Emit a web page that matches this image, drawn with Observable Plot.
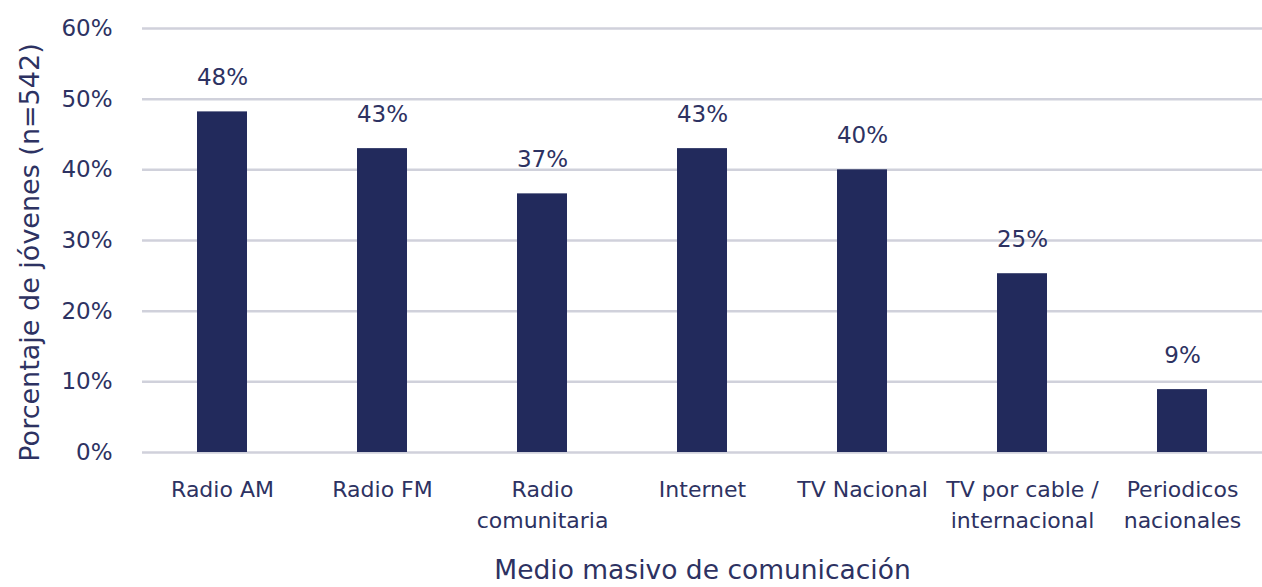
<!DOCTYPE html>
<html>
<head>
<meta charset="utf-8">
<script src="https://cdn.jsdelivr.net/npm/d3@7"></script>
<script src="https://cdn.jsdelivr.net/npm/@observablehq/plot@0.6"></script>
<style>
  body { margin: 0; background: #fff; }
  svg { display: block; }
</style>
</head>
<body>
<div id="chart"></div>
<script>
const categories = ["Radio AM", "Radio FM", "Radio comunitaria", "Internet", "TV Nacional", "TV por cable / internacional", "Periodicos nacionales"];
const tickLabels = ["Radio AM", "Radio FM", "Radio\ncomunitaria", "Internet", "TV Nacional", "TV por cable /\ninternacional", "Periodicos\nnacionales"];
const values = [48.2, 43, 36.6, 43, 40, 25.3, 8.9];
const valueLabels = ["48%", "43%", "37%", "43%", "40%", "25%", "9%"];
const yTicks = [0, 10, 20, 30, 40, 50, 60];

const data = categories.map((c, i) => ({cat: c, value: values[i], label: valueLabels[i]}));
const labelMap = new Map(categories.map((c, i) => [c, tickLabels[i]]));

const textColor = "#2d3262";
const barColor = "#222a5c";

const chart = Plot.plot({
  width: 1262,
  height: 587,
  marginLeft: 142,
  marginRight: 0,
  marginTop: 28,
  marginBottom: 135,
  style: {fontFamily: "DejaVu Sans, sans-serif", color: textColor, background: "#fff"},
  x: {domain: categories, paddingInner: 0.69, paddingOuter: 0.345, align: 0.5},
  y: {domain: [0, 60]},
  marks: [
    Plot.gridY(yTicks, {stroke: "#d0d1db", strokeOpacity: 1, strokeWidth: 2.5}),
    Plot.barY(data, {x: "cat", y: "value", fill: barColor}),
    Plot.text(data, {x: "cat", y: "value", text: "label", dy: -34, fontSize: 23, fill: textColor}),
    Plot.axisY(yTicks, {tickSize: 0, tickPadding: 30, fontSize: 23, tickFormat: d => d + "%", label: null}),
    Plot.axisX({tickSize: 0, tickPadding: 22, fontSize: 22, lineHeight: 1.41, tickFormat: d => labelMap.get(d), label: null, lineAnchor: "top"}),
    Plot.text(["Medio masivo de comunicación"], {frameAnchor: "bottom", dy: 126, fontSize: 26.5, fill: textColor, lineAnchor: "bottom"}),
    Plot.text(["Porcentaje de jóvenes (n=542)"], {frameAnchor: "left", textAnchor: "middle", dx: -112, dy: 12, rotate: -90, fontSize: 27, fill: textColor, lineAnchor: "middle"})
  ]
});
document.getElementById("chart").appendChild(chart);
</script>
</body>
</html>
